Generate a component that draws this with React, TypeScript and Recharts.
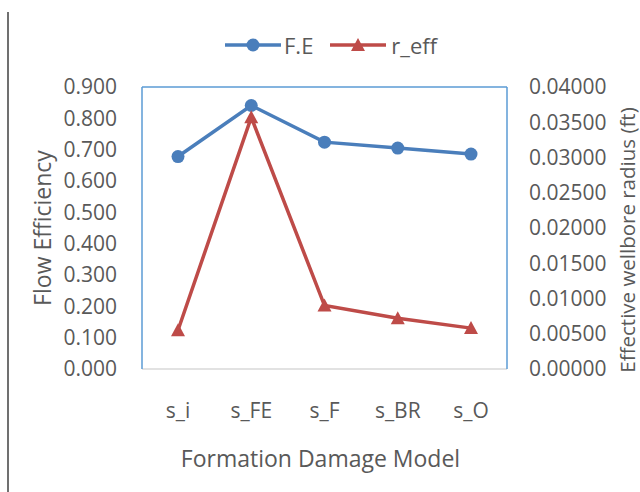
import { LineChart, Line, XAxis, YAxis, Label, ReferenceLine } from 'recharts';

const categories = ['s_i', 's_FE', 's_F', 's_BR', 's_O'];
const flowEfficiency = [0.678, 0.841, 0.724, 0.705, 0.686];
const effectiveRadius = [0.0055, 0.0357, 0.009, 0.0072, 0.0058];
const leftTicks = [0, 0.1, 0.2, 0.3, 0.4, 0.5, 0.6, 0.7, 0.8, 0.9];
const rightTicks = [0, 0.005, 0.01, 0.015, 0.02, 0.025, 0.03, 0.035, 0.04];

const BLUE = '#4A7EBB';
const RED = '#BE4B48';
const BORDER = '#5B9BD5';
const TEXT = '#595959';
const FONT = '"Open Sans", sans-serif';

const data = categories.map((name, i) => ({
  name,
  fe: flowEfficiency[i],
  reff: effectiveRadius[i],
}));

const Triangle = (props: any) => {
  const { cx, cy, index } = props;
  if (cx == null || cy == null) return null;
  return (
    <path
      key={`tri-${index}`}
      d={`M${cx},${cy - 7} L${cx + 7},${cy + 6} L${cx - 7},${cy + 6} Z`}
      fill={RED}
    />
  );
};

const LegendIcon = ({ color, marker }: { color: string; marker: 'circle' | 'triangle' }) => (
  <svg width={56} height={16} style={{ display: 'block' }}>
    <line x1={0} y1={8} x2={56} y2={8} stroke={color} strokeWidth={3.5} />
    {marker === 'circle' ? (
      <circle cx={28} cy={8} r={6.5} fill={color} />
    ) : (
      <path d="M28,1 L35,14 L21,14 Z" fill={color} />
    )}
  </svg>
);

const App = () => {
  const tickStyle = { fill: TEXT, fontSize: 21, fontFamily: FONT };

  return (
    <div style={{ position: 'absolute', left: 0, top: 0, width: 640, height: 492, background: '#fff' }}>
      <div style={{ position: 'absolute', left: 7, top: 12, width: 2, height: 480, background: '#707070' }} />

      <div
        style={{
          position: 'absolute',
          left: 225,
          top: 31,
          display: 'flex',
          alignItems: 'center',
          fontFamily: FONT,
          fontSize: 22,
          color: TEXT,
          lineHeight: '28px',
        }}
      >
        <LegendIcon color={BLUE} marker="circle" />
        <span style={{ marginLeft: 3 }}>F.E</span>
        <span style={{ width: 17 }} />
        <LegendIcon color={RED} marker="triangle" />
        <span style={{ marginLeft: 5 }}>r_eff</span>
      </div>

      <LineChart width={640} height={492} data={data} margin={{ top: 87, right: 0, bottom: 63, left: 0 }}>
        <XAxis
          dataKey="name"
          height={60}
          padding={{ left: 36, right: 36 }}
          tickLine={false}
          tickMargin={28}
          axisLine={{ stroke: '#D9D9D9', strokeWidth: 1.5 }}
          tick={tickStyle}
          interval={0}
        >
          <Label
            content={(p: any) => {
              const vb = p.viewBox;
              return (
                <text
                  x={vb.x + vb.width / 2 - 4}
                  y={458}
                  textAnchor="middle"
                  dominantBaseline="central"
                  fill={TEXT}
                  fontSize={23}
                  fontFamily={FONT}
                >
                  Formation Damage Model
                </text>
              );
            }}
          />
        </XAxis>
        <YAxis
          yAxisId="left"
          width={142}
          domain={[0, 0.9]}
          ticks={leftTicks}
          tickFormatter={(v: number) => v.toFixed(3)}
          tickLine={false}
          tickMargin={19}
          axisLine={{ stroke: BORDER, strokeWidth: 1.5 }}
          tick={tickStyle}
        >
          <Label
            content={(p: any) => {
              const vb = p.viewBox;
              const cx = vb.x + 42;
              const cy = vb.y + vb.height / 2;
              return (
                <text
                  x={cx}
                  y={cy}
                  transform={`rotate(-90, ${cx}, ${cy})`}
                  textAnchor="middle"
                  dominantBaseline="central"
                  fill={TEXT}
                  fontSize={23}
                  fontFamily={FONT}
                >
                  Flow Efficiency
                </text>
              );
            }}
          />
        </YAxis>
        <YAxis
          yAxisId="right"
          orientation="right"
          width={133}
          domain={[0, 0.04]}
          ticks={rightTicks}
          tickFormatter={(v: number) => v.toFixed(5)}
          tickLine={false}
          tickMargin={16}
          axisLine={{ stroke: BORDER, strokeWidth: 1.5 }}
          tick={tickStyle}
        >
          <Label
            content={(p: any) => {
              const vb = p.viewBox;
              const cx = vb.x + 120;
              const cy = vb.y + vb.height / 2 + 12;
              return (
                <text
                  x={cx}
                  y={cy}
                  transform={`rotate(-90, ${cx}, ${cy})`}
                  textAnchor="middle"
                  dominantBaseline="central"
                  fill={TEXT}
                  fontSize={20.5}
                  fontFamily={FONT}
                >
                  Effective wellbore radius (ft)
                </text>
              );
            }}
          />
        </YAxis>
        <ReferenceLine yAxisId="left" y={0.9} stroke={BORDER} strokeWidth={1.5} />
        <Line
          yAxisId="left"
          dataKey="fe"
          stroke={BLUE}
          strokeWidth={3.5}
          dot={{ r: 6.5, fill: BLUE, stroke: BLUE, strokeWidth: 0 }}
          isAnimationActive={false}
        />
        <Line
          yAxisId="right"
          dataKey="reff"
          stroke={RED}
          strokeWidth={3.5}
          dot={Triangle}
          isAnimationActive={false}
        />
      </LineChart>
    </div>
  );
};

export default App;
